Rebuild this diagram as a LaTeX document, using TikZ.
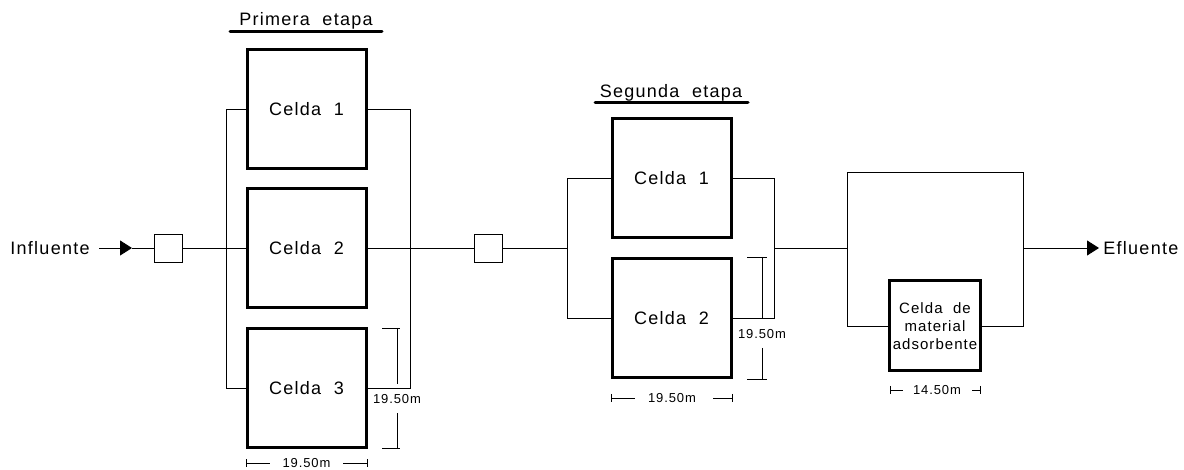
\documentclass[tikz,border=0pt]{standalone}
\usepackage{fontspec}
\setmainfont{Liberation Sans}[LetterSpace=7]
\usetikzlibrary{arrows.meta}
\begin{document}
\begin{tikzpicture}[x=1pt,y=-1pt,line width=0.9pt,
  cell/.style={draw,line width=3pt,minimum width=119pt,minimum height=119pt,inner sep=0pt,font=\fontsize{18}{20}\selectfont},
  valve/.style={draw,line width=0.9pt,minimum width=28pt,minimum height=28pt,inner sep=0pt},
  lbl/.style={font=\fontsize{18}{20}\selectfont,inner sep=0pt},
  dimtxt/.style={font=\fontsize{13}{15}\selectfont,inner sep=0pt},
  arr/.style={-{Triangle[length=12pt,width=15pt]}},
  uline/.style={line width=3pt,line cap=round}]
\useasboundingbox (0,0) rectangle (1184,470);

% titles
\node[lbl] (t1) at (306,21) {Primera\ \ etapa};
\draw[uline] (230,32) -- (382,32);
\node[lbl] (t2) at (671,93) {Segunda\ \ etapa};
\draw[uline] (595,103) -- (748,103);

% stage 1 cells
\node[cell] (c11) at (306.5,109.5) {Celda\ \ 1};
\node[cell] (c12) at (306.5,248) {Celda\ \ 2};
\node[cell] (c13) at (306.5,388) {Celda\ \ 3};

% stage 2 cells
\node[cell] (d1) at (671.5,178) {Celda\ \ 1};
\node[cell] (d2) at (671.5,318) {Celda\ \ 2};

% adsorbent
\node[cell,minimum width=91pt,minimum height=90pt,align=center,font=\fontsize{15}{18}\selectfont] (ad) at (935,326) {Celda\ \ de\\material\\adsorbente};

% valves
\node[valve] (v1) at (168,248) {};
\node[valve] (v2) at (488.5,248) {};

% in / out
\node[lbl,anchor=west] (infl) at (10,248) {Influente};
\node[lbl,anchor=west] (efl) at (1103,248) {Efluente};
\coordinate (a0) at (99,248);
\coordinate (a1) at (132,248);
\coordinate (J2) at (567,248);
\coordinate (J3) at (775,248);
\coordinate (J4) at (847,248);
\coordinate (J5) at (1023,248);
\coordinate (e1) at (1099,248);
\coordinate (top) at (847,172);
\coordinate (R) at (1023,326);

\draw[arr] (a0) -- (a1);
\draw (a1) -- (v1.west);
\draw (v1.east) -- (c12.west);
\draw (c11.west) -- ++(-19,0) |- (c13.west);
\draw (c11.east) -- ++(43,0) |- (c13.east);
\draw (c12.east) -- (v2.west);
\draw (v2.east) -- (J2);
\draw (d1.west) -- ++(-43,0) |- (d2.west);
\draw (d1.east) -- ++(42,0) |- (d2.east);
\draw (J3) -- (J4);
\draw (ad.west) -| (top) -| (R) -- (ad.east);
\draw[arr] (J5) -- (e1);

% dimensions stage 1
\node[dimtxt] (dv1) at (397,399) {19.50m};
\draw (382,328) -- (400,328);
\draw (382,448) -- (400,448);
\draw (397,328) -- (397,384);
\draw (397,413) -- (397,448);
\node[dimtxt] (dh1) at (306.5,463) {19.50m};
\draw (246,459) -- (246,467);
\draw (367,459) -- (367,467);
\draw (246,463) -- (270,463);
\draw (343,463) -- (367,463);

% dimensions stage 2
\node[dimtxt] (dv2) at (762,334) {19.50m};
\draw (747,257) -- (767,257);
\draw (747,379) -- (767,379);
\draw (762,257) -- (762,318);
\draw (762,348) -- (762,379);
\node[dimtxt] (dh2) at (672,398) {19.50m};
\draw (611,394) -- (611,402);
\draw (732,394) -- (732,402);
\draw (611,398) -- (635,398);
\draw (713,398) -- (732,398);

% dimension adsorbent
\node[dimtxt] (dh3) at (937,390) {14.50m};
\draw (890,386) -- (890,394);
\draw (980,386) -- (980,394);
\draw (890,390) -- (903,390);
\draw (972,390) -- (980,390);
\end{tikzpicture}
\end{document}
